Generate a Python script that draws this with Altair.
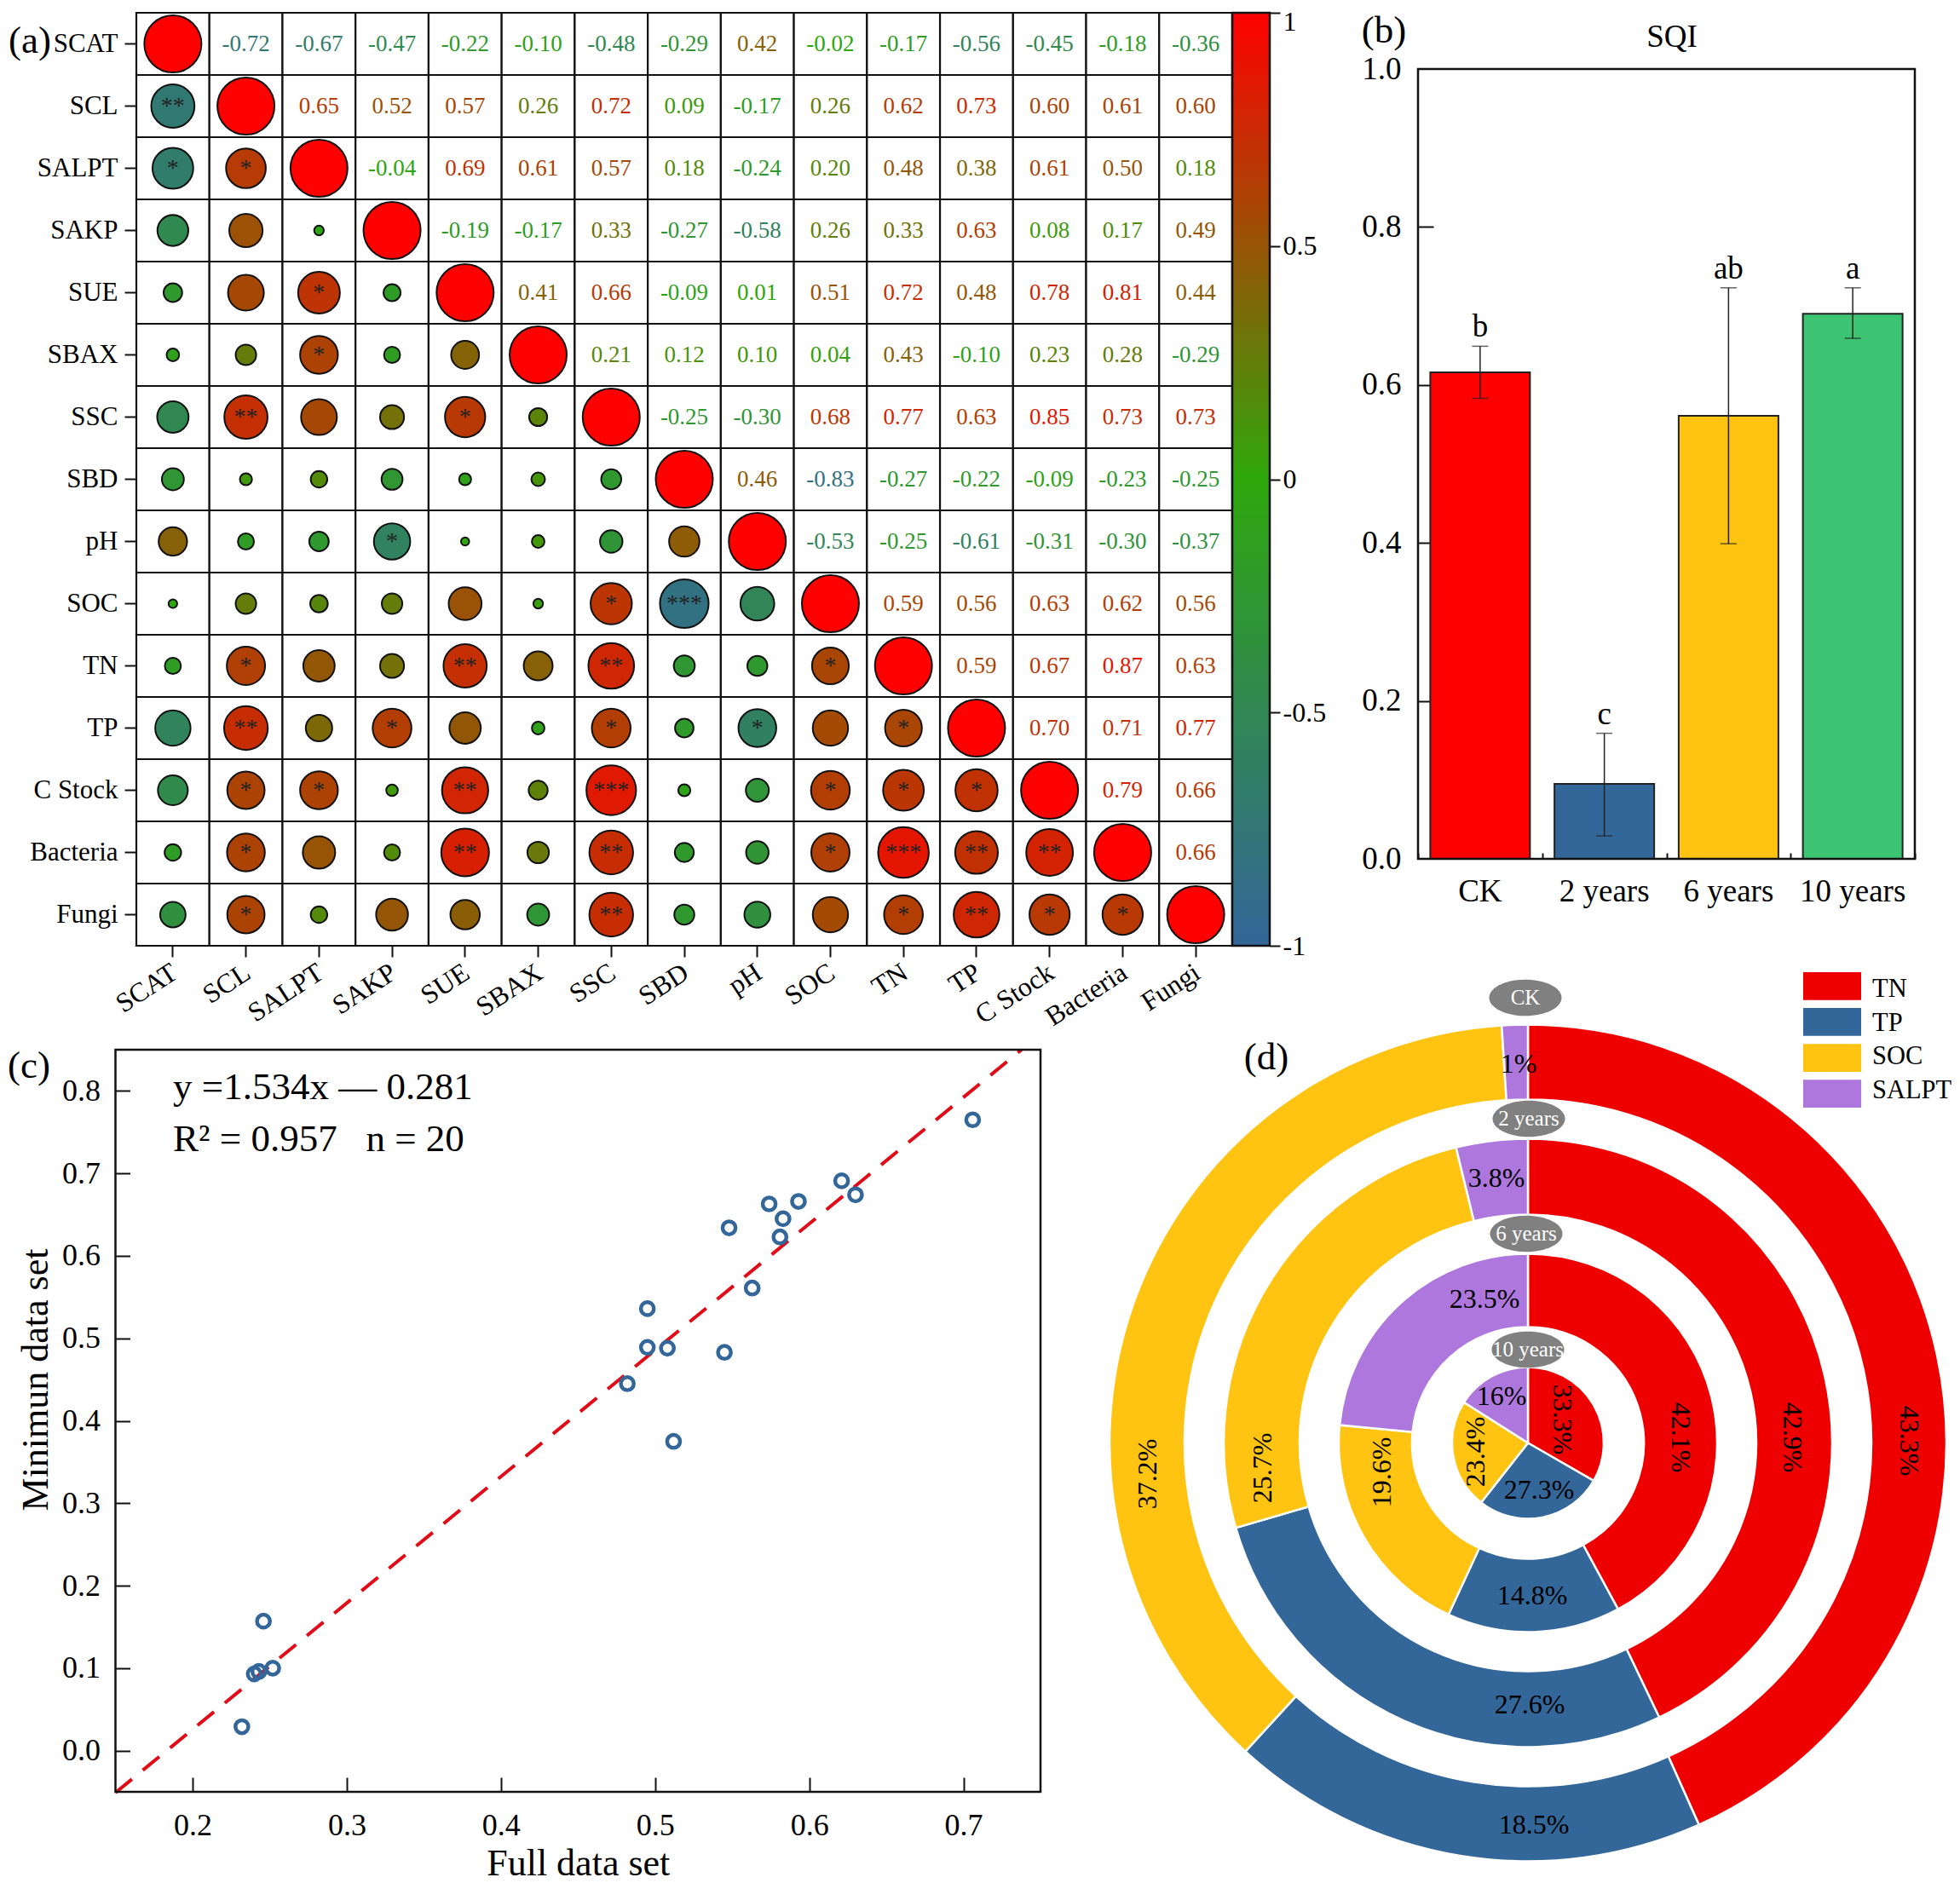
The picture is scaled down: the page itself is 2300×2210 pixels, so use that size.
import altair as alt
import pandas as pd

# panel (a) correlation matrix, upper triangle read row by row
variables = ['SCAT', 'SCL', 'SALPT', 'SAKP', 'SUE', 'SBAX', 'SSC', 'SBD', 'pH',
             'SOC', 'TN', 'TP', 'C Stock', 'Bacteria', 'Fungi']
upper_rows = [
    [-0.72, -0.67, -0.47, -0.22, -0.10, -0.48, -0.29, 0.42, -0.02, -0.17, -0.56, -0.45, -0.18, -0.36],
    [0.65, 0.52, 0.57, 0.26, 0.72, 0.09, -0.17, 0.26, 0.62, 0.73, 0.60, 0.61, 0.60],
    [-0.04, 0.69, 0.61, 0.57, 0.18, -0.24, 0.20, 0.48, 0.38, 0.61, 0.50, 0.18],
    [-0.19, -0.17, 0.33, -0.27, -0.58, 0.26, 0.33, 0.63, 0.08, 0.17, 0.49],
    [0.41, 0.66, -0.09, 0.01, 0.51, 0.72, 0.48, 0.78, 0.81, 0.44],
    [0.21, 0.12, 0.10, 0.04, 0.43, -0.10, 0.23, 0.28, -0.29],
    [-0.25, -0.30, 0.68, 0.77, 0.63, 0.85, 0.73, 0.73],
    [0.46, -0.83, -0.27, -0.22, -0.09, -0.23, -0.25],
    [-0.53, -0.25, -0.61, -0.31, -0.30, -0.37],
    [0.59, 0.56, 0.63, 0.62, 0.56],
    [0.59, 0.67, 0.87, 0.63],
    [0.70, 0.71, 0.77],
    [0.79, 0.66],
    [0.66],
]
# significance stars in the lower triangle, row -> {column: stars}
stars = {
    'SCL': {'SCAT': '**'},
    'SALPT': {'SCAT': '*', 'SCL': '*'},
    'SUE': {'SALPT': '*'},
    'SBAX': {'SALPT': '*'},
    'SSC': {'SCL': '**', 'SUE': '*'},
    'pH': {'SAKP': '*'},
    'SOC': {'SSC': '*', 'SBD': '***'},
    'TN': {'SCL': '*', 'SUE': '**', 'SSC': '**', 'SOC': '*'},
    'TP': {'SCL': '**', 'SAKP': '*', 'SSC': '*', 'pH': '*', 'TN': '*'},
    'C Stock': {'SCL': '*', 'SALPT': '*', 'SUE': '**', 'SSC': '***', 'SOC': '*', 'TN': '*', 'TP': '*'},
    'Bacteria': {'SCL': '*', 'SUE': '**', 'SSC': '**', 'SOC': '*', 'TN': '***', 'TP': '**', 'C Stock': '**'},
    'Fungi': {'SCL': '*', 'SSC': '**', 'TN': '*', 'TP': '**', 'C Stock': '*', 'Bacteria': '*'},
}

# panel (b)
periods = ['CK', '2 years', '6 years', '10 years']
sqi = [0.616, 0.095, 0.561, 0.690]
sqi_low = [0.583, 0.029, 0.399, 0.659]
sqi_high = [0.649, 0.159, 0.723, 0.723]
sqi_letters = ['b', 'c', 'ab', 'a']
bar_colors = ['#ff0000', '#336699', '#ffc312', '#3cc472']

# panel (c)
full_set = [0.706, 0.621, 0.630, 0.574, 0.593, 0.583, 0.581, 0.548, 0.563, 0.495,
            0.495, 0.508, 0.545, 0.482, 0.512, 0.246, 0.252, 0.243, 0.240, 0.232]
min_set = [0.765, 0.691, 0.674, 0.663, 0.666, 0.645, 0.623, 0.634, 0.561, 0.536,
           0.489, 0.488, 0.483, 0.445, 0.375, 0.157, 0.100, 0.096, 0.093, 0.029]
fit_x = [0.15, 0.7377]
fit_y = [-0.051, 0.85]

# panel (d)
parts = ['TN', 'TP', 'SOC', 'SALPT']
part_colors = ['#ee0000', '#336699', '#ffc312', '#ae77dd']
shares = {
    'CK': [43.3, 18.5, 37.2, 1],
    '2 years': [42.9, 27.6, 25.7, 3.8],
    '6 years': [42.1, 14.8, 19.6, 23.5],
    '10 years': [33.3, 27.3, 23.4, 16],
}
ring_radii = {'CK': (491, 403), '2 years': (357, 268), '6 years': (222, 136), '10 years': (89, 0)}
# where the percentage labels sit: x, y, angle per ring, same order as parts
share_spots = {
    'CK': [(2240, 1691, 90), (1800, 2142, 0), (1347, 1730, 270), (1782, 1249, 0)],
    '2 years': [(2103, 1687, 90), (1795, 2001, 0), (1482, 1723, 270), (1756, 1383, 0)],
    '6 years': [(1972, 1687, 90), (1798, 1873, 0), (1622, 1728, 270), (1742, 1525, 0)],
    '10 years': [(1833, 1666, 90), (1806, 1749, 0), (1732, 1704, 270), (1762, 1639, 0)],
}
badge_spots = {'CK': (1790, 1171), '2 years': (1794, 1313), '6 years': (1791, 1448), '10 years': (1793, 1584)}

FONT = 'Liberation Serif'
INK = '#111111'
W, H = 2284, 2202
cmap_domain = [-1, 0, 1]
cmap_range = ['#336699', '#2ea80c', '#ff0000']


def px(v):
    # reference picture pixels to chart pixels, the page has an 8px margin
    return v - 8


one_row = pd.DataFrame({'k': [0]})


def note(text, x, y, size, color='black', angle=0, align='center', baseline='middle'):
    return alt.Chart(one_row).mark_text(
        text=text, font=FONT, fontSize=size, color=color, angle=angle, align=align, baseline=baseline
    ).encode(x=alt.value(px(x)), y=alt.value(px(y)))


def frame(x0, x1, y0, y1, width=2.5):
    return alt.Chart(one_row).mark_rect(fillOpacity=0, stroke=INK, strokeWidth=width).encode(
        x=alt.value(px(x0)), x2=alt.value(px(x1)), y=alt.value(px(y0)), y2=alt.value(px(y1))
    )


layers = []

# ---- (a) correlation matrix ----
A_L, A_R, A_T, A_B = 160, 1446, 15, 1110
cells = []
for i, row in enumerate(variables):
    for j, col in enumerate(variables):
        if i == j:
            r = 1.0
        elif j > i:
            r = upper_rows[i][j - i - 1]
        else:
            r = upper_rows[j][i - j - 1]
        cells.append({'row': row, 'col': col, 'r': r, 'i': i, 'j': j,
                      'star': stars.get(row, {}).get(col, ''),
                      'label': f'{r:.2f}'})
cells = pd.DataFrame(cells)
# vega sizes a circle as diameter squared
cells['area'] = (9 + 58 * cells['r'].abs()) ** 2

x_band = alt.Scale(domain=variables, range=[px(A_L), px(A_R)], paddingInner=0, paddingOuter=0)
y_band = alt.Scale(domain=variables, range=[px(A_T), px(A_B)], paddingInner=0, paddingOuter=0)
corr_color = alt.Scale(domain=cmap_domain, range=cmap_range, interpolate='rgb')

layers.append(alt.Chart(cells).mark_rect(fill='white', stroke=INK, strokeWidth=2.2).encode(
    x=alt.X('col:N', scale=x_band, axis=alt.Axis(
        orient='bottom', offset=px(A_B) - H, title=None, labelAngle=-33, labelAlign='right',
        labelBaseline='middle', labelOffset=2, labelFont=FONT, labelFontSize=32, labelColor='black',
        labelPadding=15, tickSize=13, tickWidth=2, tickColor=INK, domain=False, grid=False)),
    y=alt.Y('row:N', scale=y_band, axis=alt.Axis(
        orient='left', offset=-px(A_L), title=None, labelFont=FONT, labelFontSize=31,
        labelColor='black', labelPadding=8, tickSize=14, tickWidth=2, tickColor=INK,
        domain=False, grid=False)),
))
layers.append(alt.Chart(cells[cells['j'] <= cells['i']]).mark_circle(
    stroke=INK, strokeWidth=2, opacity=1
).encode(
    x=alt.X('col:N', scale=x_band, axis=None),
    y=alt.Y('row:N', scale=y_band, axis=None),
    color=alt.Color('r:Q', scale=corr_color, legend=None),
    size=alt.Size('area:Q', scale=None, legend=None),
))
layers.append(alt.Chart(cells[cells['j'] > cells['i']]).mark_text(font=FONT, fontSize=27).encode(
    x=alt.X('col:N', scale=x_band, axis=None),
    y=alt.Y('row:N', scale=y_band, axis=None),
    color=alt.Color('r:Q', scale=corr_color, legend=None),
    text='label:N',
))
layers.append(alt.Chart(cells[cells['star'] != '']).mark_text(font=FONT, fontSize=28, color='#222222').encode(
    x=alt.X('col:N', scale=x_band, axis=None),
    y=alt.Y('row:N', scale=y_band, axis=None),
    text='star:N',
))

# colour bar
bar_df = pd.DataFrame({'lo': [-1], 'hi': [1]})
layers.append(alt.Chart(bar_df).mark_rect(
    stroke=INK, strokeWidth=2.5,
    fill=alt.Gradient(gradient='linear', x1=0, x2=0, y1=1, y2=0, stops=[
        alt.GradientStop(offset=0, color=cmap_range[0]),
        alt.GradientStop(offset=0.5, color=cmap_range[1]),
        alt.GradientStop(offset=1, color=cmap_range[2]),
    ])
).encode(
    x=alt.value(px(1446)), x2=alt.value(px(1490)),
    y=alt.Y('lo:Q', scale=alt.Scale(domain=[-1, 1], range=[px(A_B), px(A_T)], nice=False, zero=False), axis=alt.Axis(
        orient='right', offset=px(1490) - W, title=None, values=[-1, -0.5, 0, 0.5, 1],
        labelExpr="'' + datum.value",
        # the top label would fall off the page
        labelOffset={'condition': {'test': 'datum.value == 1', 'value': 10}, 'value': 0},
        labelFont=FONT, labelFontSize=32, labelColor='black', labelPadding=3, tickSize=12,
        tickWidth=2, tickColor=INK, domain=False, grid=False)),
    y2='hi:Q',
))

# ---- (b) SQI bars ----
B_L, B_R, B_T, B_B = 1664, 2247, 81, 1008
bars = pd.DataFrame({'period': periods, 'sqi': sqi, 'low': sqi_low, 'high': sqi_high, 'letter': sqi_letters})
b_x = alt.Scale(domain=periods, range=[px(B_L), px(B_R)], paddingInner=0, paddingOuter=0)
b_y = alt.Scale(domain=[0, 1], range=[px(B_B), px(B_T)], nice=False)
no_x = alt.X('period:N', scale=b_x, axis=None)
no_y = alt.Y('sqi:Q', scale=b_y, axis=None)

layers.append(alt.Chart(bars).mark_bar(size=117, stroke='#222222', strokeWidth=2).encode(
    x=alt.X('period:N', scale=b_x, axis=alt.Axis(
        orient='bottom', offset=px(B_B) - H, title=None, labelAngle=0, labelFont=FONT, labelFontSize=37,
        labelColor='black', labelPadding=20, ticks=False, domain=False, grid=False)),
    y=alt.Y('sqi:Q', scale=b_y, axis=alt.Axis(
        orient='left', offset=-px(B_L), title=None, values=[0, 0.2, 0.4, 0.6, 0.8, 1.0], format='.1f',
        labelFont=FONT, labelFontSize=37, labelColor='black', labelPadding=20, ticks=False,
        domain=False, grid=False)),
    fill=alt.Fill('period:N', scale=alt.Scale(domain=periods, range=bar_colors), legend=None),
))
# inward ticks come from axes on the opposite side
layers.append(alt.Chart(bars).mark_rule(color='#222222', strokeWidth=1.5).encode(
    x=alt.X('period:N', scale=b_x, axis=alt.Axis(
        orient='top', offset=-px(B_B), title=None, labels=False, tickBand='extent', tickSize=7,
        tickWidth=2, tickColor=INK, domain=False, grid=False)),
    y=alt.Y('low:Q', scale=b_y, axis=alt.Axis(
        orient='right', offset=px(B_L) - W, title=None, labels=False, values=[0.2, 0.4, 0.6, 0.8],
        tickSize=18, tickWidth=2, tickColor=INK, domain=False, grid=False)),
    y2='high:Q',
))
for field in ['low', 'high']:
    layers.append(alt.Chart(bars).mark_tick(color='#222222', size=19, thickness=1.5, orient='horizontal').encode(
        x=no_x, y=alt.Y(f'{field}:Q', scale=b_y, axis=None)))
layers.append(alt.Chart(bars).mark_text(font=FONT, fontSize=37, baseline='alphabetic', dy=-11, color='black').encode(
    x=no_x, y=alt.Y('high:Q', scale=b_y, axis=None), text='letter:N'))
layers.append(frame(B_L, B_R, B_T, B_B))
layers.append(note('SQI', 1962, 44, 37))
layers.append(note('(a)', 35, 48, 45))
layers.append(note('(b)', 1624, 36, 45))

# ---- (c) scatter ----
C_L, C_R, C_T, C_B = 135.5, 1221, 1232, 2103
points = pd.DataFrame({'full': full_set, 'mini': min_set})
fit = pd.DataFrame({'x': fit_x, 'y': fit_y})
c_x = alt.Scale(domain=[0.15, 0.75], range=[px(C_L), px(C_R)], nice=False, zero=False)
c_y = alt.Scale(domain=[-0.05, 0.85], range=[px(C_B), px(C_T)], nice=False, zero=False)

layers.append(alt.Chart(fit).mark_line(color='#e00b16', strokeWidth=4, strokeDash=[25, 16.5]).encode(
    x=alt.X('x:Q', scale=c_x, axis=alt.Axis(
        orient='top', offset=-px(C_B), title=None, labels=False, values=[0.2, 0.3, 0.4, 0.5, 0.6, 0.7],
        tickSize=17, tickWidth=2, tickColor=INK, domain=False, grid=False)),
    y=alt.Y('y:Q', scale=c_y, axis=alt.Axis(
        orient='right', offset=px(C_L) - W, title=None, labels=False,
        values=[0, 0.1, 0.2, 0.3, 0.4, 0.5, 0.6, 0.7, 0.8],
        tickSize=17, tickWidth=2, tickColor=INK, domain=False, grid=False)),
))
layers.append(alt.Chart(points).mark_point(shape='circle', filled=False, size=230, color='#336699', strokeWidth=4.5, opacity=1).encode(
    x=alt.X('full:Q', scale=c_x, axis=alt.Axis(
        orient='bottom', offset=px(C_B) - H, title='Full data set', titleFont=FONT, titleFontSize=44,
        titleFontWeight='normal', titleColor='black', titlePadding=5,
        values=[0.2, 0.3, 0.4, 0.5, 0.6, 0.7], format='.1f', labelFont=FONT, labelFontSize=36,
        labelColor='black', labelPadding=22, ticks=False, domain=False, grid=False)),
    y=alt.Y('mini:Q', scale=c_y, axis=alt.Axis(
        orient='left', offset=-px(C_L), title='Minimun data set', titleFont=FONT, titleFontSize=44,
        titleFontWeight='normal', titleColor='black', titlePadding=8, titleY=px(1619),
        values=[0, 0.1, 0.2, 0.3, 0.4, 0.5, 0.6, 0.7, 0.8], format='.1f', labelFont=FONT, labelFontSize=36,
        labelColor='black', labelPadding=18, ticks=False, domain=False, grid=False)),
))
layers.append(frame(C_L, C_R, C_T, C_B))
layers.append(note('y =1.534x \u2014 0.281', 203, 1276, 45, align='left'))
layers.append(note('R\u00b2 = 0.957\u00a0\u00a0\u00a0n = 20', 203, 1337, 45, align='left'))
layers.append(note('(c)', 34, 1251, 45))

# ---- (d) nested donuts ----
D_X, D_Y = 1793, 1693.5
for period in periods:
    ring = pd.DataFrame({'part': parts, 'share': shares[period], 'idx': range(len(parts))})
    outer, inner = ring_radii[period]
    layers.append(alt.Chart(ring).mark_arc(radius=outer, radius2=inner, stroke='white', strokeWidth=2.5).encode(
        theta=alt.Theta('share:Q', stack=True, scale=alt.Scale(domain=[0, sum(shares[period])])),
        fill=alt.Fill('part:N', scale=alt.Scale(domain=parts, range=part_colors), legend=None),
        order=alt.Order('idx:Q'),
        x=alt.value(px(D_X)), y=alt.value(px(D_Y)),
    ))
for period in periods:
    for value, (sx, sy, sa) in zip(shares[period], share_spots[period]):
        layers.append(note(f'{value}%', sx, sy, 32, angle=sa))
for period in periods:
    bx, by = badge_spots[period]
    layers.append(alt.Chart(one_row).mark_point(
        shape='M-1,0A1,0.5,0,1,1,1,0A1,0.5,0,1,1,-1,0Z', size=7225, filled=True, color='#808080', opacity=1
    ).encode(x=alt.value(px(bx)), y=alt.value(px(by))))
    layers.append(note(period, bx, by, 25, color='white'))
layers.append(note('(d)', 1486, 1241, 45))

# legend of (d)
legend_y = alt.Scale(domain=parts, range=[px(1141), px(1300)], paddingInner=0.22, paddingOuter=0)
legend_df = pd.DataFrame({'part': parts})
layers.append(alt.Chart(legend_df).mark_rect().encode(
    x=alt.value(px(2116)), x2=alt.value(px(2184)),
    y=alt.Y('part:N', scale=legend_y, axis=None),
    fill=alt.Fill('part:N', scale=alt.Scale(domain=parts, range=part_colors), legend=None),
))
layers.append(alt.Chart(legend_df).mark_text(font=FONT, fontSize=30.5, align='left', color='black').encode(
    x=alt.value(px(2197)),
    y=alt.Y('part:N', scale=legend_y, axis=None),
    text='part:N',
))

chart = alt.layer(*layers).resolve_scale(
    x='independent', y='independent', color='independent', fill='independent', theta='independent'
).resolve_axis(
    x='independent', y='independent'
).properties(
    width=W, height=H, padding=0, autosize=alt.AutoSizeParams(type='none')
).configure_view(stroke=None)

chart.save("out.html", embed_options={"renderer": "svg", "actions": False})
